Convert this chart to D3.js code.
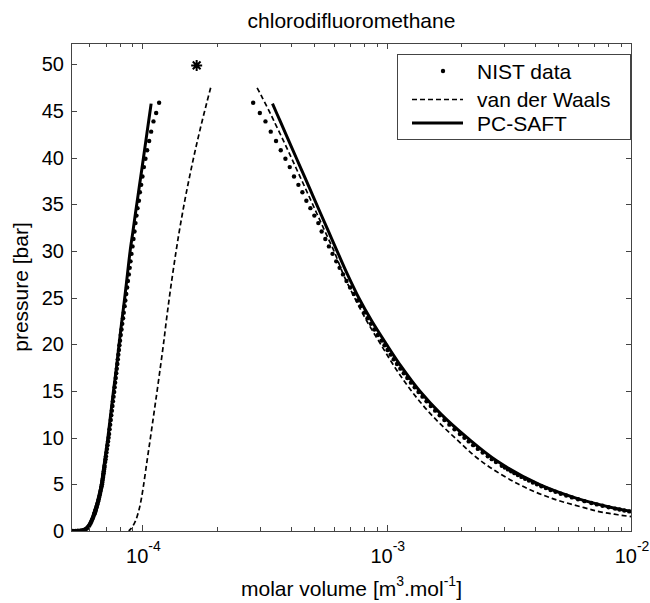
<!DOCTYPE html>
<html>
<head>
<meta charset="utf-8">
<script src="https://cdn.jsdelivr.net/npm/d3@7"></script>
<style>
  body { margin: 0; background: #fff; }
  svg { display: block; font-family: "Liberation Sans", Arial, Helvetica, sans-serif; }
</style>
</head>
<body>
<div id="viz"></div>
<script>
const width = 650;
const height = 603;
const plot = {left: 71, right: 632, top: 43, bottom: 531};

// NIST saturation data: pressure [bar], liquid / vapour molar volume [m3/mol]
const nistPressure = [
  45.9, 44.8, 43.9, 42.8, 41.8, 40.8, 39.9, 39.0, 38.0, 37.1,
  36.3, 35.4, 34.6, 33.8, 33.0, 32.1, 31.3, 30.5, 29.7, 28.9,
  28.2, 27.5, 26.8, 26.1, 25.4, 24.7, 24.1, 23.4, 22.8, 22.2,
  21.6, 21.0, 20.4, 19.9, 19.4, 18.9, 18.4, 17.9, 17.4, 16.9,
  16.4, 15.9, 15.4, 14.9, 14.4, 13.9, 13.4, 12.9, 12.4, 11.9,
  11.4, 10.9, 10.4, 10.0, 9.6, 9.2, 8.8, 8.4, 8.0, 7.7,
  7.4, 7.0, 6.8, 6.6, 6.4, 6.2, 6.0, 5.8, 5.6, 5.4,
  5.2, 5.0, 4.8, 4.6, 4.4, 4.2, 4.0, 3.8, 3.6, 3.4,
  3.2, 3.0, 2.85, 2.7, 2.55, 2.4, 2.3, 2.2, 2.1, 2.0,
  1.9, 1.8, 1.6, 1.4, 1.2, 1.0, 0.8, 0.6, 0.45, 0.3,
  0.2, 0.12, 0.07, 0.04, 0.02, 0.01, 0.005, 0.002
];
const nistLiquidVolume = [
  1.159e-4, 1.127e-4, 1.099e-4, 1.075e-4, 1.055e-4, 1.035e-4, 1.019e-4, 1.004e-4, 9.906e-5, 9.786e-5,
  9.667e-5, 9.577e-5, 9.452e-5, 9.363e-5, 9.276e-5, 9.189e-5, 9.103e-5, 9.018e-5, 8.933e-5, 8.850e-5,
  8.784e-5, 8.710e-5, 8.636e-5, 8.572e-5, 8.499e-5, 8.428e-5, 8.373e-5, 8.302e-5, 8.248e-5, 8.186e-5,
  8.132e-5, 8.071e-5, 8.018e-5, 7.973e-5, 7.936e-5, 7.891e-5, 7.854e-5, 7.817e-5, 7.774e-5, 7.737e-5,
  7.701e-5, 7.657e-5, 7.621e-5, 7.586e-5, 7.543e-5, 7.501e-5, 7.465e-5, 7.424e-5, 7.382e-5, 7.347e-5,
  7.306e-5, 7.265e-5, 7.231e-5, 7.197e-5, 7.163e-5, 7.123e-5, 7.090e-5, 7.057e-5, 7.023e-5, 6.997e-5,
  6.971e-5, 6.932e-5, 6.918e-5, 6.899e-5, 6.880e-5, 6.867e-5, 6.847e-5, 6.835e-5, 6.815e-5, 6.796e-5,
  6.783e-5, 6.764e-5, 6.739e-5, 6.714e-5, 6.688e-5, 6.663e-5, 6.638e-5, 6.613e-5, 6.582e-5, 6.558e-5,
  6.527e-5, 6.496e-5, 6.472e-5, 6.448e-5, 6.423e-5, 6.399e-5, 6.381e-5, 6.363e-5, 6.345e-5, 6.327e-5,
  6.310e-5, 6.292e-5, 6.251e-5, 6.210e-5, 6.163e-5, 6.117e-5, 6.066e-5, 6.003e-5, 5.947e-5, 5.875e-5,
  5.798e-5, 5.706e-5, 5.610e-5, 5.506e-5, 5.388e-5, 5.263e-5, 5.141e-5, 4.998e-5
];
const nistVapourVolume = [
  2.812e-4, 2.995e-4, 3.158e-4, 3.319e-4, 3.489e-4, 3.648e-4, 3.812e-4, 3.970e-4, 4.133e-4, 4.308e-4,
  4.473e-4, 4.644e-4, 4.823e-4, 5.007e-4, 5.199e-4, 5.363e-4, 5.553e-4, 5.744e-4, 5.943e-4, 6.155e-4,
  6.352e-4, 6.560e-4, 6.780e-4, 7.015e-4, 7.263e-4, 7.520e-4, 7.741e-4, 8.015e-4, 8.266e-4, 8.531e-4,
  8.810e-4, 9.110e-4, 9.426e-4, 9.703e-4, 9.982e-4, 1.0273e-3, 1.0583e-3, 1.0912e-3, 1.1262e-3, 1.1631e-3,
  1.2026e-3, 1.2445e-3, 1.2894e-3, 1.3368e-3, 1.3873e-3, 1.4416e-3, 1.5000e-3, 1.5631e-3, 1.6318e-3, 1.7061e-3,
  1.7876e-3, 1.8766e-3, 1.9746e-3, 2.0606e-3, 2.1452e-3, 2.2371e-3, 2.3377e-3, 2.4473e-3, 2.5678e-3, 2.6669e-3,
  2.7733e-3, 2.9296e-3, 3.0151e-3, 3.1053e-3, 3.2004e-3, 3.3022e-3, 3.4112e-3, 3.5271e-3, 3.6517e-3, 3.7844e-3,
  3.9281e-3, 4.0832e-3, 4.2543e-3, 4.4397e-3, 4.6424e-3, 4.8634e-3, 5.1080e-3, 5.3772e-3, 5.6770e-3, 6.0117e-3,
  6.3884e-3, 6.8155e-3, 7.1748e-3, 7.5751e-3, 8.0206e-3, 8.5229e-3, 8.8960e-3, 9.2999e-3, 9.7454e-3, 1.0233e-2,
  1.077e-2, 1.136e-2, 1.28e-2, 1.46e-2, 1.70e-2, 2.03e-2, 2.52e-2, 3.33e-2, 4.4e-2, 6.5e-2,
  9.5e-2, 0.155, 0.26, 0.44, 0.85, 1.6, 3.1, 7.5
];

// van der Waals equation of state
const vdwLiquidPressure = [47.5, 46, 44, 42, 40, 38, 36, 34, 32, 30, 27.5, 25, 22.5, 20, 17.5, 15, 12.5, 10, 7.5, 5, 3.5, 2.5, 1.5, 1, 0.5, 0.2, 0.05, 0.01];
const vdwLiquidVolume = [
  1.884e-4, 1.820e-4, 1.741e-4, 1.669e-4, 1.604e-4, 1.545e-4, 1.491e-4, 1.443e-4, 1.399e-4, 1.360e-4,
  1.316e-4, 1.276e-4, 1.240e-4, 1.207e-4, 1.172e-4, 1.137e-4, 1.102e-4, 1.068e-4, 1.034e-4, 1.002e-4,
  9.809e-5, 9.636e-5, 9.403e-5, 9.245e-5, 9.031e-5, 8.854e-5, 8.742e-5, 8.693e-5
];
const vdwVapourPressure = [47.5, 47, 46.5, 46, 45, 44, 42, 40, 38, 36, 34, 32, 30, 27.5, 25, 22.5, 20, 17.5, 15, 12.5, 10, 7.5, 5, 3.5, 2.5, 2.05, 1.8, 1.6, 1.5, 1.4];
const vdwVapourVolume = [
  2.919e-4, 2.989e-4, 3.057e-4, 3.126e-4, 3.270e-4, 3.412e-4, 3.714e-4, 4.030e-4, 4.369e-4, 4.738e-4,
  5.131e-4, 5.557e-4, 6.026e-4, 6.582e-4, 7.313e-4, 8.210e-4, 9.363e-4, 1.0720e-3, 1.2508e-3, 1.5036e-3,
  1.8808e-3, 2.4099e-3, 3.4392e-3, 4.7024e-3, 6.3626e-3, 7.4031e-3, 8.46e-3, 9.556e-3, 1.021e-2, 1.096e-2
];

// PC-SAFT equation of state
const pcsaftLiquidPressure = [45.8, 44, 42, 40, 38, 36, 34, 32, 30, 27.5, 25, 22.5, 20, 17.5, 15, 12.5, 10, 8, 6, 5, 4, 3, 2, 1.5, 1, 0.6, 0.3, 0.15, 0.07, 0.03, 0.012, 0.005, 0.002];
const pcsaftLiquidVolume = [
  1.075e-4, 1.051e-4, 1.025e-4, 1.000e-4, 9.749e-5, 9.505e-5, 9.267e-5, 9.043e-5, 8.817e-5,
  8.596e-5, 8.380e-5, 8.155e-5, 7.944e-5, 7.751e-5, 7.536e-5, 7.341e-5, 7.150e-5,
  6.977e-5, 6.809e-5, 6.720e-5, 6.607e-5, 6.460e-5, 6.280e-5, 6.187e-5, 6.071e-5,
  5.958e-5, 5.825e-5, 5.690e-5, 5.542e-5, 5.378e-5, 5.213e-5, 5.059e-5, 4.905e-5
];
const pcsaftVapourPressure = [45.8, 44, 42, 40, 38, 36, 34, 32, 30, 27.5, 25, 22.5, 20, 17.5, 15, 12.5, 10, 7.5, 5, 3.5, 2.5, 2.0, 1.8];
const pcsaftVapourVolume = [
  3.374e-4, 3.617e-4, 3.907e-4, 4.220e-4, 4.559e-4, 4.923e-4, 5.317e-4, 5.744e-4, 6.204e-4,
  6.841e-4, 7.606e-4, 8.603e-4, 9.888e-4, 1.1449e-3, 1.3521e-3, 1.6564e-3, 2.1147e-3,
  2.8021e-3, 4.1687e-3, 5.9466e-3, 8.3176e-3, 1.0406e-2, 1.16e-2
];

const criticalVolume = 1.651e-4;
const criticalPressure = 49.9;

const yTicks = [0, 5, 10, 15, 20, 25, 30, 35, 40, 45, 50];
const xMajorTicks = [1e-4, 1e-3, 1e-2];
const xMajorExponents = ['-4', '-3', '-2'];
const xMinorTicks = [6e-5, 7e-5, 8e-5, 9e-5,
  2e-4, 3e-4, 4e-4, 5e-4, 6e-4, 7e-4, 8e-4, 9e-4,
  2e-3, 3e-3, 4e-3, 5e-3, 6e-3, 7e-3, 8e-3, 9e-3];
const legendLabels = ['NIST data', 'van der Waals', 'PC-SAFT'];

const svg = d3.select('#viz').append('svg')
  .attr('width', width)
  .attr('height', height);

svg.append('rect').attr('width', width).attr('height', height).attr('fill', '#fff');

const x = d3.scaleLog().domain([5.05e-5, 1e-2]).range([plot.left, plot.right]);
const y = d3.scaleLinear().domain([0, 52.3]).range([plot.bottom, plot.top]);

svg.append('clipPath').attr('id', 'clip')
  .append('rect')
  .attr('x', plot.left).attr('y', plot.top - 2)
  .attr('width', plot.right - plot.left).attr('height', plot.bottom - plot.top + 2);

const curves = svg.append('g').attr('clip-path', 'url(#clip)');

const line = d3.line()
  .x(d => x(d[0]))
  .y(d => y(d[1]))
  .curve(d3.curveCatmullRom.alpha(0.5));

// NIST dots
const nistPoints = d3.zip(nistLiquidVolume, nistPressure)
  .concat(d3.zip(nistVapourVolume, nistPressure));
curves.append('g')
  .selectAll('circle')
  .data(nistPoints)
  .join('circle')
    .attr('cx', d => x(d[0]))
    .attr('cy', d => y(d[1]))
    .attr('r', 2.2)
    .attr('fill', '#000');

// van der Waals, dashed
[d3.zip(vdwLiquidVolume, vdwLiquidPressure), d3.zip(vdwVapourVolume, vdwVapourPressure)].forEach(pts => {
  curves.append('path')
    .attr('d', line(pts))
    .attr('fill', 'none')
    .attr('stroke', '#000')
    .attr('stroke-width', 1.7)
    .attr('stroke-dasharray', '5,3');
});

// PC-SAFT, thick solid
[d3.zip(pcsaftLiquidVolume, pcsaftLiquidPressure), d3.zip(pcsaftVapourVolume, pcsaftVapourPressure)].forEach(pts => {
  curves.append('path')
    .attr('d', line(pts))
    .attr('fill', 'none')
    .attr('stroke', '#000')
    .attr('stroke-width', 3);
});

// critical point, matlab style '*'
function asterisk(r) {
  const p = d3.path();
  [0, 45, 90, 135].forEach(a => {
    const t = a * Math.PI / 180;
    p.moveTo(-r * Math.cos(t), -r * Math.sin(t));
    p.lineTo(r * Math.cos(t), r * Math.sin(t));
  });
  return p.toString();
}
svg.append('path')
  .attr('d', asterisk(5.5))
  .attr('transform', `translate(${x(criticalVolume)},${y(criticalPressure)})`)
  .attr('fill', 'none')
  .attr('stroke', '#000')
  .attr('stroke-width', 2);

// axes box + ticks
const axisColor = '#444';
svg.append('rect')
  .attr('x', plot.left + 0.5).attr('y', plot.top + 0.5)
  .attr('width', plot.right - plot.left - 1).attr('height', plot.bottom - plot.top)
  .attr('fill', 'none').attr('stroke', axisColor).attr('stroke-width', 1);

const ticks = svg.append('g').attr('stroke', axisColor).attr('stroke-width', 1);
yTicks.forEach(t => {
  const yy = Math.round(y(t)) + 0.5;
  ticks.append('line').attr('x1', plot.left).attr('x2', plot.left + 6).attr('y1', yy).attr('y2', yy);
  ticks.append('line').attr('x1', plot.right).attr('x2', plot.right - 6).attr('y1', yy).attr('y2', yy);
});
xMajorTicks.forEach(t => {
  const xx = Math.round(x(t)) - 0.5;
  ticks.append('line').attr('x1', xx).attr('x2', xx).attr('y1', plot.bottom).attr('y2', plot.bottom - 6);
  ticks.append('line').attr('x1', xx).attr('x2', xx).attr('y1', plot.top).attr('y2', plot.top + 6);
});
xMinorTicks.forEach(t => {
  const xx = Math.round(x(t)) + 0.5;
  ticks.append('line').attr('x1', xx).attr('x2', xx).attr('y1', plot.bottom).attr('y2', plot.bottom - 4);
  ticks.append('line').attr('x1', xx).attr('x2', xx).attr('y1', plot.top).attr('y2', plot.top + 4);
});

// tick labels
svg.append('g')
  .selectAll('text')
  .data(yTicks)
  .join('text')
    .attr('x', plot.left - 7)
    .attr('y', d => y(d) + 7)
    .attr('text-anchor', 'end')
    .attr('font-size', 20)
    .text(d => d);

const xLabels = svg.append('g')
  .selectAll('text')
  .data(xMajorTicks)
  .join('text')
    .attr('x', d => x(d))
    .attr('y', 563)
    .attr('text-anchor', 'middle')
    .attr('font-size', 20);
xLabels.append('tspan').text('10');
xLabels.append('tspan')
  .attr('font-size', 14)
  .attr('dy', -12)
  .text((d, i) => xMajorExponents[i]);

// title and axis labels
svg.append('text')
  .attr('x', (plot.left + plot.right) / 2)
  .attr('y', 28)
  .attr('text-anchor', 'middle')
  .attr('font-size', 21)
  .text('chlorodifluoromethane');

const xl = svg.append('text')
  .attr('x', (plot.left + plot.right) / 2)
  .attr('y', 596)
  .attr('text-anchor', 'middle')
  .attr('font-size', 21);
xl.append('tspan').text('molar volume [m');
xl.append('tspan').attr('font-size', 14).attr('dy', -10).text('3');
xl.append('tspan').attr('dy', 10).text('.mol');
xl.append('tspan').attr('font-size', 14).attr('dy', -10).text('-1');
xl.append('tspan').attr('dy', 10).text(']');

svg.append('text')
  .attr('transform', `translate(28,${(plot.top + plot.bottom) / 2}) rotate(-90)`)
  .attr('text-anchor', 'middle')
  .attr('font-size', 21)
  .text('pressure [bar]');

// legend
const legend = svg.append('g');
legend.append('rect')
  .attr('x', 397.5).attr('y', 54.5)
  .attr('width', 233).attr('height', 85)
  .attr('fill', '#fff').attr('stroke', axisColor).attr('stroke-width', 1);

const legendBaselines = [78.5, 107, 130.5];
legend.selectAll('text')
  .data(legendLabels)
  .join('text')
    .attr('x', 477)
    .attr('y', (d, i) => legendBaselines[i])
    .attr('font-size', 21)
    .text(d => d);

legend.append('circle')
  .attr('cx', 443).attr('cy', legendBaselines[0] - 7.5)
  .attr('r', 2.2).attr('fill', '#000');
legend.append('line')
  .attr('x1', 412).attr('x2', 463)
  .attr('y1', legendBaselines[1] - 7.5).attr('y2', legendBaselines[1] - 7.5)
  .attr('stroke', '#000').attr('stroke-width', 1.7).attr('stroke-dasharray', '5,3');
legend.append('line')
  .attr('x1', 412).attr('x2', 463)
  .attr('y1', legendBaselines[2] - 7.5).attr('y2', legendBaselines[2] - 7.5)
  .attr('stroke', '#000').attr('stroke-width', 3);
</script>
</body>
</html>
